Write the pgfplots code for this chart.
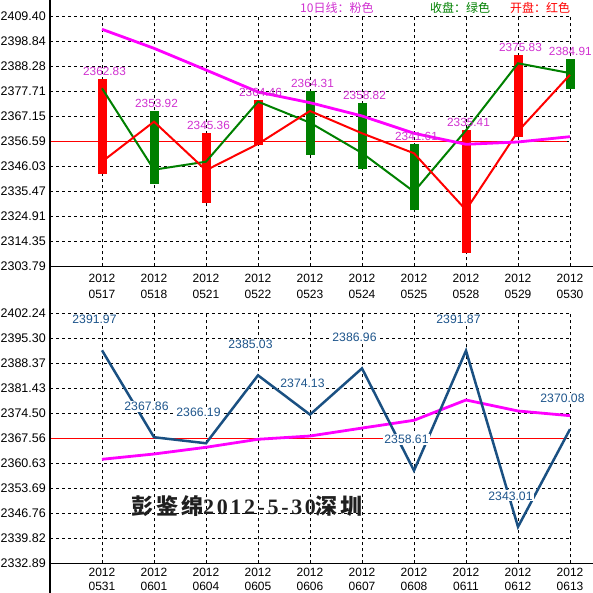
\documentclass[border=0pt]{standalone}
\usepackage{fontspec}
\setmainfont{Liberation Sans}
\newfontfamily\cjk{Noto Sans CJK SC}
\newfontfamily\sigcjk[LetterSpace=12]{Noto Sans CJK SC}
\newfontfamily\sigser[LetterSpace=12]{Liberation Serif}
\usepackage{pgfplots}
\pgfplotsset{compat=1.18}
\definecolor{mag}{RGB}{255,0,255}
\definecolor{labmag}{RGB}{208,48,208}
\definecolor{dgreen}{RGB}{0,128,0}
\definecolor{bblue}{RGB}{26,80,130}
\definecolor{lblue}{RGB}{30,85,140}
\pgfplotsset{
  common/.style={
    scale only axis, width=520bp, xmin=0, xmax=10, xtick={1,...,10},
    axis line style={draw=none}, major tick length=0pt,
    grid=major,
    major grid style={black, line width=0.8bp, dash pattern=on 3bp off 3bp},
    yticklabel style={anchor=east, inner sep=0pt, xshift=-4bp, font=\fontsize{12.5bp}{14bp}\selectfont},
    clip=false,
    /pgf/number format/assume math mode=true,
  },
  toplab/.style={draw=none, forget plot, nodes near coords, point meta=explicit symbolic,
    every node near coord/.append style={anchor=south, inner sep=0pt, text=labmag,
      yshift=3bp, xshift=#1, font=\fontsize{11.8bp}{14bp}\selectfont}},
}
\begin{document}
\begin{tikzpicture}
\useasboundingbox (0,0) rectangle (593bp,593bp);
% ---------------- top panel ----------------
\begin{axis}[common,
  at={(50bp,326.7bp)}, anchor=south west, height=250.3bp,
  ymin=2303.79, ymax=2409.40,
  ytick={2303.79,2314.35,2324.91,2335.47,2346.03,2356.59,2367.15,2377.71,2388.28,2398.84,2409.40},
  yticklabels={2303.79,2314.35,2324.91,2335.47,2346.03,2356.59,2367.15,2377.71,2388.28,2398.84,2409.40},
  xticklabels={{2012\\0517},{2012\\0518},{2012\\0521},{2012\\0522},{2012\\0523},{2012\\0524},{2012\\0525},{2012\\0528},{2012\\0529},{2012\\0530}},
  xticklabel style={anchor=north, inner sep=0pt, yshift=-8bp, align=center, font=\fontsize{12bp}{15.5bp}\selectfont},
]
\addplot[red, line width=1bp, forget plot] coordinates {(0,2356.59) (9.95,2356.59)};
% candle bars
\addplot[red, line width=9bp, forget plot] coordinates {(1,2342.64) (1,2383.02)};
\addplot[dgreen, line width=9bp, forget plot] coordinates {(2,2338.52) (2,2369.32)};
\addplot[red, line width=9bp, forget plot] coordinates {(3,2330.65) (3,2360.07)};
\addplot[red, line width=9bp, forget plot] coordinates {(4,2355.05) (4,2373.87)};
\addplot[dgreen, line width=9bp, forget plot] coordinates {(5,2350.87) (5,2377.75)};
\addplot[dgreen, line width=9bp, forget plot] coordinates {(6,2344.96) (6,2372.68)};
\addplot[dgreen, line width=9bp, forget plot] coordinates {(7,2327.75) (7,2355.47)};
\addplot[red, line width=9bp, forget plot] coordinates {(8,2309.52) (8,2361.30)};
\addplot[red, line width=9bp, forget plot] coordinates {(9,2358.53) (9,2393.13)};
\addplot[dgreen, line width=9bp, forget plot] coordinates {(10,2378.52) (10,2391.30)};
% labels (midpoint of each bar)
\addplot[toplab=2.5bp]
  coordinates {(1,2383.02) [2362.83] (2,2369.32) [2353.92] (3,2360.07) [2345.36]
    (4,2373.87) [2364.46] (5,2377.75) [2364.31] (6,2372.68) [2358.82]
    (7,2355.47) [2341.61] (8,2361.30) [2335.41] (9,2393.13) [2375.83]};
\addplot[toplab=0.3bp] coordinates {(10,2391.30) [2384.91]};
% close (green)
\addplot[dgreen, line width=2bp, forget plot] coordinates {
  (1,2378.90) (2,2344.55) (3,2347.93) (4,2373.24) (5,2364.40)
  (6,2351.60) (7,2335.27) (8,2361.18) (9,2389.44) (10,2385.30)};
% open (red)
\addplot[red, line width=2bp, forget plot] coordinates {
  (1,2347.93) (2,2364.80) (3,2344.30) (4,2355.40) (5,2369.32)
  (6,2359.91) (7,2351.47) (8,2327.55) (9,2360.76) (10,2384.60)};
% 10-day MA
\addplot[mag, line width=2.8bp, forget plot] coordinates {
  (1,2403.79) (2,2395.77) (3,2386.62) (4,2377.34) (5,2372.82)
  (6,2367.21) (7,2359.91) (8,2355.27) (9,2356.24) (10,2358.48)};
\end{axis}
% ---------------- bottom panel ----------------
\begin{axis}[common,
  at={(50bp,29.7bp)}, anchor=south west, height=250bp,
  ymin=2332.89, ymax=2402.24,
  ytick={2332.89,2339.82,2346.76,2353.69,2360.63,2367.56,2374.50,2381.43,2388.37,2395.30,2402.24},
  yticklabels={2332.89,2339.82,2346.76,2353.69,2360.63,2367.56,2374.50,2381.43,2388.37,2395.30,2402.24},
  xticklabels={{2012\\0531},{2012\\0601},{2012\\0604},{2012\\0605},{2012\\0606},{2012\\0607},{2012\\0608},{2012\\0611},{2012\\0612},{2012\\0613}},
  xticklabel style={anchor=north, inner sep=0pt, yshift=-5bp, align=center, font=\fontsize{12bp}{13.5bp}\selectfont},
]
\addplot[red, line width=1bp, forget plot] coordinates {(0,2367.56) (9.95,2367.56)};
\addplot[mag, line width=2.8bp, forget plot] coordinates {
  (1,2361.74) (2,2363.21) (3,2365.07) (4,2367.29) (5,2368.20)
  (6,2370.40) (7,2372.56) (8,2378.19) (9,2375.14) (10,2373.84)};
\addplot[bblue, line width=2.5bp, forget plot, nodes near coords, point meta=explicit symbolic,
  every node near coord/.append style={anchor=center, inner sep=1bp, fill=white, text=lblue,
    yshift=31bp, xshift=-7.5bp, font=\fontsize{12.2bp}{14bp}\selectfont}]
  coordinates {(1,2391.97) [2391.97] (2,2367.86) [2367.86] (3,2366.19) [2366.19]
    (4,2385.03) [2385.03] (5,2374.13) [2374.13] (6,2386.96) [2386.96]
    (7,2358.61) [2358.61] (8,2391.87) [2391.87] (9,2343.01) [2343.01] (10,2370.08) [2370.08]};
\end{axis}
% frame lines
\draw[black, line width=1.2bp] (50bp,0bp) -- (50bp,593bp);
\draw[black, line width=1.2bp] (50bp,326.7bp) -- (593bp,326.7bp);
\draw[black, line width=1.2bp] (50bp,29.7bp) -- (593bp,29.7bp);
% legend texts
\node[anchor=west, inner sep=0pt, text=labmag, font=\cjk\fontsize{12bp}{14bp}\selectfont] at (300bp,585bp) {10日线：粉色};
\node[anchor=west, inner sep=0pt, text=dgreen, font=\cjk\fontsize{12bp}{14bp}\selectfont] at (430bp,585bp) {收盘：绿色};
\node[anchor=west, inner sep=0pt, text=red, font=\cjk\fontsize{12bp}{14bp}\selectfont] at (510bp,585bp) {开盘：红色};
% signature
\node[anchor=west, inner sep=0pt, text=black!88] at (131.7bp,87bp)
  {\fontsize{22bp}{24bp}\selectfont\bfseries{\sigcjk 彭鉴绵}{\sigser 2012-5-30}{\sigcjk 深圳}};
\end{tikzpicture}
\end{document}
